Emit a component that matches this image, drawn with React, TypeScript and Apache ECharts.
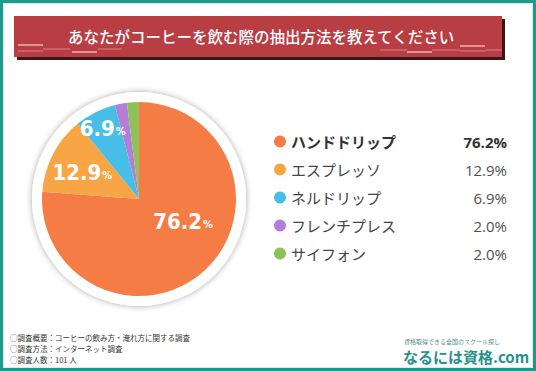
import React, { useEffect, useRef } from "react";
import * as echarts from "echarts";

const title = "あなたがコーヒーを飲む際の抽出方法を教えてください";
const categories = ["ハンドドリップ", "エスプレッソ", "ネルドリップ", "フレンチプレス", "サイフォン"];
const values = [76.2, 12.9, 6.9, 2.0, 2.0];
const colors = ["#F67C46", "#F8A645", "#47BEE6", "#B47ED8", "#8DC356"];
const footerLines = [
  "○調査概要：コーヒーの飲み方・淹れ方に関する調査",
  "○調査方法：インターネット調査",
  "○調査人数：101 人",
];
const logoTagline = "資格取得できる全国のスクール探し";
const logoText = "なるには資格.com";

const labelShift = [
  [9, -15],
  [-11, -3],
  [-13, -25],
  [0, 0],
  [0, 0],
];

export default function App() {
  const ref = useRef<HTMLDivElement>(null);
  useEffect(() => {
    if (!ref.current) return;
    const chart = echarts.init(ref.current, undefined, { renderer: "svg" });
    const jp = "'Noto Sans CJK JP', 'Noto Sans', sans-serif";
    const stripes = [
      [18, 45, 43, 45, 2, 0.55],
      [18, 51, 43, 51, 1.5, 0.3],
      [43, 49, 70, 49, 1.5, 0.3],
      [72, 52, 97, 52, 2, 0.55],
      [98, 49, 122, 49, 1.5, 0.3],
      [380, 50, 407, 50, 1.5, 0.3],
      [407, 52, 432, 52, 2, 0.55],
      [432, 50, 460, 50, 1.5, 0.3],
      [460, 46, 485, 46, 2, 0.55],
      [460, 51, 485, 51, 1.5, 0.3],
      [485, 50, 502, 50, 1.5, 0.3],
    ];
    chart.setOption({
      animation: false,
      backgroundColor: "#ffffff",
      graphic: [
        { type: "rect", shape: { x: 1.5, y: 1.5, width: 533, height: 368 }, style: { fill: "none", stroke: "#1C9A8C", lineWidth: 3 }, z: 10 },
        { type: "rect", shape: { x: 3.5, y: 3.5, width: 529, height: 364 }, style: { fill: "none", stroke: "#e4e4e4", lineWidth: 1 }, z: 10 },
        { type: "rect", shape: { x: 17, y: 19, width: 488, height: 41 }, style: { fill: "#3a1515" }, z: 1 },
        { type: "rect", shape: { x: 14, y: 16, width: 488, height: 41 }, style: { fill: "#B93E43" }, z: 2 },
        ...stripes.map((s) => ({
          type: "line",
          shape: { x1: s[0], y1: s[1], x2: s[2], y2: s[3] },
          style: { stroke: `rgba(255,220,220,${s[5]})`, lineWidth: s[4] },
          z: 3,
        })),
        {
          type: "text",
          x: 261,
          y: 36,
          style: { text: title, fill: "#ffffff", font: `500 15.5px ${jp}`, textAlign: "center", textVerticalAlign: "middle" },
          z: 4,
        },
        ...footerLines.map((t, i) => ({
          type: "text",
          x: 10,
          y: 337 + i * 11,
          style: { text: t, fill: "#333333", font: `7.5px ${jp}`, textVerticalAlign: "middle" },
          z: 4,
        })),
        {
          type: "text",
          x: 404,
          y: 341,
          style: { text: logoTagline, fill: "#4f8d8a", font: `6px ${jp}`, textVerticalAlign: "middle" },
          z: 4,
        },
        {
          type: "text",
          x: 403,
          y: 356,
          style: { text: logoText, fill: "#27908B", font: `bold 15px ${jp}`, textVerticalAlign: "middle" },
          z: 4,
        },
      ],
      legend: {
        orient: "vertical",
        left: 269,
        top: 129,
        itemWidth: 12,
        itemHeight: 12,
        itemGap: 13,
        icon: "circle",
        selectedMode: false,
        data: categories,
        formatter: (name: string) => {
          const i = categories.indexOf(name);
          const v = values[i].toFixed(1) + "%";
          return i === 0 ? `{nb|${name}}{vb|${v}}` : `{n|${name}}{v|${v}}`;
        },
        textStyle: {
          rich: {
            n: { width: 150, fontSize: 15, color: "#454545", fontFamily: jp },
            nb: { width: 150, fontSize: 15, color: "#333333", fontWeight: "bold", fontFamily: jp },
            v: { width: 66, align: "right", fontSize: 15, color: "#505050", fontFamily: "'Open Sans', sans-serif" },
            vb: { width: 66, align: "right", fontSize: 15, color: "#333333", fontWeight: "bold", fontFamily: "'Open Sans', sans-serif" },
          },
        },
      },
      series: [
        {
          type: "pie",
          center: [139, 199],
          radius: [0, 107],
          silent: true,
          z: 1,
          label: { show: false },
          labelLine: { show: false },
          emphasis: { disabled: true },
          itemStyle: { color: "#ffffff", shadowBlur: 6, shadowColor: "rgba(0,0,0,0.35)" },
          data: [{ value: 1, name: "__ring" }],
        },
        {
          type: "pie",
          center: [139, 199],
          radius: [0, 97],
          startAngle: 90,
          clockwise: true,
          z: 2,
          silent: true,
          emphasis: { disabled: true },
          labelLine: { show: false },
          label: {
            position: "inside",
            formatter: (p: any) => `{num|${values[p.dataIndex].toFixed(1)}}{pct|%}`,
            rich: {
              num: { fontSize: 22, fontWeight: "bold", color: "#ffffff", fontFamily: "'DejaVu Sans Condensed', 'DejaVu Sans', sans-serif" },
              pct: { fontSize: 11, fontWeight: "bold", color: "#ffffff", fontFamily: "'DejaVu Sans Condensed', 'DejaVu Sans', sans-serif", padding: [6, 0, 0, 1] },
            },
          },
          labelLayout: (p: any) => {
            const s = labelShift[p.dataIndex] || [0, 0];
            return { dx: s[0], dy: s[1] };
          },
          data: categories.map((c, i) => ({
            name: c,
            value: values[i],
            itemStyle: { color: colors[i] },
            label: { show: i < 3 },
          })),
        },
      ],
    });
    return () => chart.dispose();
  }, []);
  return <div ref={ref} style={{ position: "fixed", left: 0, top: 0, width: 536, height: 371 }} />;
}
